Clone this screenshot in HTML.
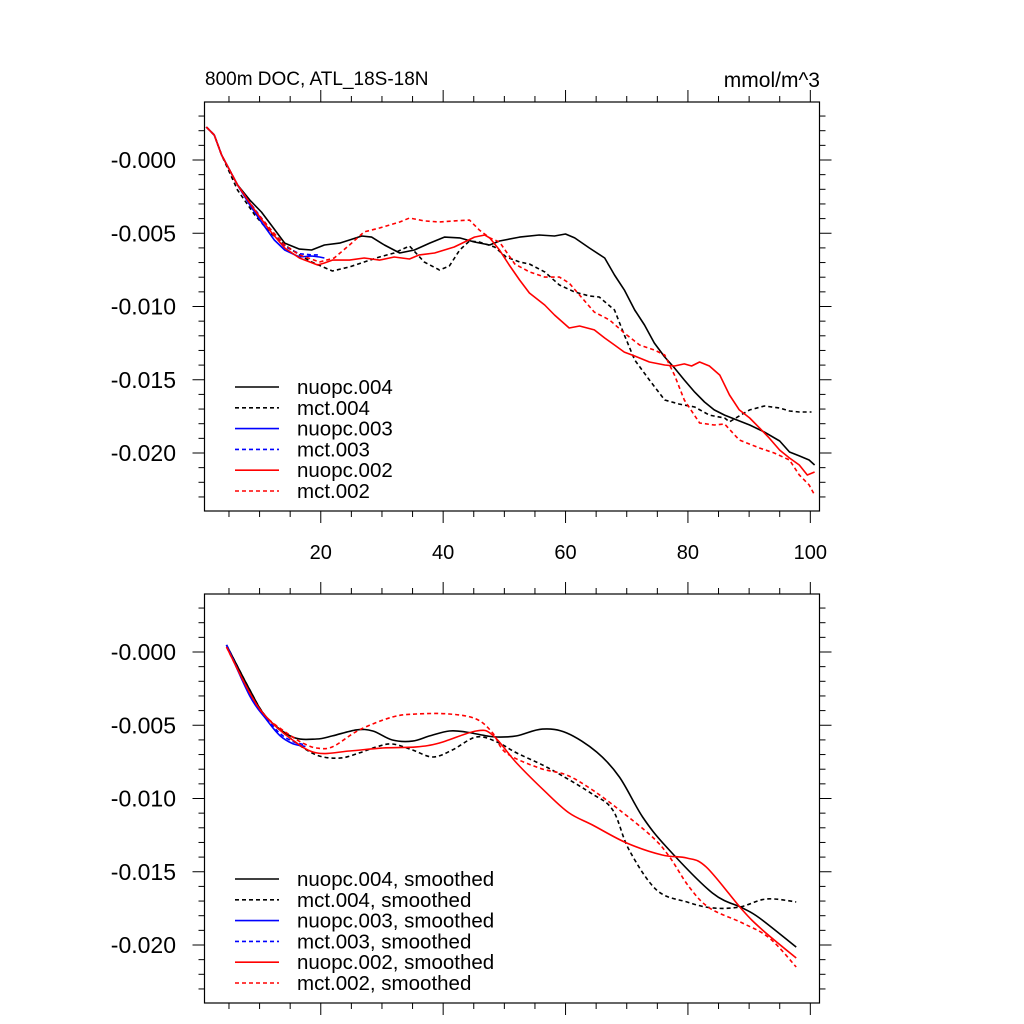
<!DOCTYPE html>
<html><head><meta charset="utf-8"><style>
body{margin:0;background:#fff;}
svg{display:block;font-family:"Liberation Sans",sans-serif;}
</style></head><body>
<svg id="c" width="1024" height="1024" xmlns="http://www.w3.org/2000/svg"></svg>
<script>
// ---- data (y in units of 1e-3 mmol/m^3) ----
const xTicks=[20,40,60,80,100];
const yTicks=[0,-5,-10,-15,-20];
const yTickLabels=["-0.000","-0.005","-0.010","-0.015","-0.020"];
// top panel raw series
const nuopc004X=[1.3,2.6,3.8,6.4,8.4,10.3,11.9,14.1,16.5,18.5,20.6,23.1,24.7,26.7,28.3,30.4,32.9,35.3,37.8,40.2,42.7,45.1,47.6,49.2,52.5,55.7,58.2,60,61.5,63.9,66.4,68,69.6,71.3,72.9,74.5,76.2,77.8,79.4,81.1,82.7,84.3,86,87.6,90.1,92.5,95,96.6,98.2,99.8,100.7];
const nuopc004Y=[2.25,1.7,0.34,-1.7,-2.73,-3.55,-4.44,-5.67,-6.08,-6.14,-5.8,-5.67,-5.46,-5.19,-5.26,-5.8,-6.35,-6.14,-5.67,-5.26,-5.32,-5.6,-5.8,-5.53,-5.26,-5.12,-5.19,-5.05,-5.32,-6.01,-6.69,-7.85,-8.87,-10.24,-11.26,-12.49,-13.45,-14.2,-15.02,-15.84,-16.52,-17.06,-17.41,-17.68,-18.09,-18.57,-19.18,-19.93,-20.2,-20.48,-20.82];
const mct004X=[1.3,2.6,3.8,6.4,9.2,11.6,14.1,16.5,18.5,21.9,24.7,27.1,29.6,32,34.5,36.9,39.4,41,42.7,44.3,45.9,48.4,50.3,52.5,54.1,56.6,59,61.5,63.9,65.5,68,69.6,71.3,73.7,76.2,78.6,81.1,83.5,86,86.8,88.4,90.1,92.5,95,96.6,98.2,100.2];
const mct004Y=[2.25,1.7,0.34,-2.05,-3.75,-4.91,-5.8,-6.48,-6.96,-7.58,-7.3,-6.96,-6.62,-6.35,-5.87,-6.96,-7.51,-7.24,-6.14,-5.53,-5.6,-5.94,-6.62,-6.96,-7.1,-7.64,-8.53,-9.01,-9.28,-9.35,-10.24,-11.94,-13.65,-15.02,-16.38,-16.66,-16.86,-17.41,-17.61,-17.88,-17.47,-17.06,-16.79,-16.93,-17.13,-17.2,-17.2];
const nuopc003X=[1.3,2.6,3.8,6.4,8.4,10.3,12.4,14.1,16.5,18.5,19.8,20.6];
const nuopc003Y=[2.25,1.7,0.34,-1.7,-3.07,-4.23,-5.46,-6.14,-6.62,-6.55,-6.62,-6.69];
const mct003X=[1.3,2.6,3.8,6.4,8.4,10.3,12.4,14.1,16.5,18.5,19.8];
const mct003Y=[2.25,1.7,0.34,-1.7,-2.9,-3.96,-5.05,-5.9,-6.4,-6.48,-6.48];
const nuopc002X=[1.3,2.6,3.8,6.4,9.2,11.6,14.1,16.5,19.5,20.6,21.9,24.7,27.1,29.6,32,34.5,36.1,38.6,40.2,41.8,43.5,45.1,46.8,47.6,49.2,50.8,52.5,54.1,56.6,58.2,60.6,62.3,64.7,66.4,68,69.6,71.3,73.7,76.2,77.8,79.4,80.6,81.9,83.5,85.2,86.8,88.4,90.1,91.7,93.3,95,96.6,98.2,99.5,100.7];
const nuopc002Y=[2.25,1.7,0.34,-1.7,-3.41,-4.78,-6.01,-6.69,-7.17,-7.03,-6.83,-6.83,-6.69,-6.83,-6.62,-6.76,-6.48,-6.35,-6.14,-5.94,-5.6,-5.26,-5.12,-5.32,-6.14,-7.17,-8.19,-9.08,-9.9,-10.58,-11.47,-11.33,-11.6,-12.15,-12.63,-13.11,-13.38,-13.79,-13.99,-14.06,-13.92,-14.06,-13.79,-14.06,-14.68,-16.04,-17.06,-17.61,-18.29,-18.98,-19.8,-20.34,-20.82,-21.5,-21.3];
const mct002X=[1.3,2.6,3.8,6.4,9.2,11.6,14.1,16.5,19.8,22.2,24.7,27.1,29.6,32.9,34.5,36.9,39.4,41.8,44.3,45.9,47.6,49.2,51.7,54.1,56.6,59,60.6,62.3,64.7,67.2,69.6,72.1,74.5,76.2,77.8,79.4,81.9,84.3,86,88.4,91.7,94.1,96.6,98.2,99.8,100.7];
const mct002Y=[2.25,1.7,0.34,-1.7,-3.41,-4.64,-5.8,-6.48,-6.96,-6.69,-5.8,-4.91,-4.64,-4.23,-3.96,-4.16,-4.23,-4.16,-4.1,-4.78,-5.32,-5.6,-7.1,-7.64,-7.99,-7.99,-8.4,-9.22,-10.38,-10.92,-11.81,-12.63,-12.97,-13.31,-14.68,-16.38,-17.95,-18.09,-18.02,-19.11,-19.66,-20,-20.48,-21.5,-22.18,-22.87];
// bottom panel smoothed series
const sNuopc004X=[4.6,8.4,11.1,15.4,19.3,21.9,25.8,28.5,31.7,35,37.8,41,43.7,47.1,48.8,52,56.2,60.2,65.1,68.8,72.6,76.5,84,88.9,91.7,97.7];
const sNuopc004Y=[0.48,-2.59,-4.44,-5.8,-5.94,-5.73,-5.32,-5.39,-6.01,-6.08,-5.73,-5.39,-5.46,-5.73,-5.8,-5.73,-5.26,-5.53,-6.83,-8.53,-11.26,-13.31,-16.45,-17.47,-18.16,-20.14];
const sMct004X=[4.6,8.4,11.1,15.4,19.3,23.1,26.3,29.1,31.7,35,38.3,41.5,45.4,48.8,52,57.2,64.1,67.7,70.4,74.9,79.8,84,88.4,92.8,97.7];
const sMct004Y=[0.48,-2.59,-4.44,-6.01,-7.03,-7.24,-6.89,-6.48,-6.28,-6.69,-7.17,-6.69,-5.8,-6.14,-6.89,-7.92,-9.62,-10.78,-13.52,-16.25,-17.06,-17.47,-17.41,-16.86,-17.06];
const sNuopc003X=[4.6,8.4,11.1,13.3,15.4,17.5];
const sNuopc003Y=[0.48,-3.0,-4.6,-5.7,-6.25,-6.45];
const sMct003X=[4.6,8.4,11.1,13.3,15.4,17.5];
const sMct003Y=[0.48,-2.9,-4.5,-5.55,-6.1,-6.35];
const sNuopc002X=[4.6,8.4,11.1,15.4,19.3,24.7,30.1,35.6,39.4,45.4,48.1,52,56.9,60.6,64.4,70,75.8,79.8,83,88.9,92.2,97.7];
const sNuopc002Y=[0.34,-2.8,-4.44,-6.01,-6.89,-6.76,-6.55,-6.48,-6.21,-5.39,-5.67,-7.58,-9.62,-10.99,-11.81,-13.04,-13.86,-14.06,-14.68,-17.61,-18.98,-20.89];
const sMct002X=[4.6,8.4,11.1,15.4,17.5,19.3,21.9,26.3,31.7,35.6,41,45.4,48.1,50.3,55.7,60.2,64.4,68.8,74.2,77,80.2,83.5,88.9,93.3,97.7];
const sMct002Y=[0.34,-2.8,-4.44,-5.8,-6.3,-6.55,-6.48,-5.32,-4.44,-4.23,-4.23,-4.57,-5.53,-6.89,-7.92,-8.4,-9.42,-10.78,-12.63,-13.99,-16.04,-17.47,-18.5,-19.52,-21.5];

const NS="http://www.w3.org/2000/svg";
const svg=document.getElementById('c');
function el(t,a,p){const e=document.createElementNS(NS,t);for(const k in a)e.setAttribute(k,a[k]);(p||svg).appendChild(e);return e;}
const L=204.5,R=819.5,XMIN=1,XMAX=101.5;
function sx(v){return L+(v-XMIN)/(XMAX-XMIN)*(R-L);}
function pathD(pts,smooth){
  if(!smooth)return pts.map((p,j)=>(j?'L':'M')+p[0].toFixed(1)+','+p[1].toFixed(1)).join('');
  let d='M'+pts[0][0].toFixed(1)+','+pts[0][1].toFixed(1);
  for(let i=0;i<pts.length-1;i++){
    const p0=pts[Math.max(0,i-1)],p1=pts[i],p2=pts[i+1],p3=pts[Math.min(pts.length-1,i+2)];
    const c1=[p1[0]+(p2[0]-p0[0])/6,p1[1]+(p2[1]-p0[1])/6],c2=[p2[0]-(p3[0]-p1[0])/6,p2[1]-(p3[1]-p1[1])/6];
    d+='C'+c1.map(v=>v.toFixed(1)).join(',')+' '+c2.map(v=>v.toFixed(1)).join(',')+' '+p2[0].toFixed(1)+','+p2[1].toFixed(1);
  }
  return d;
}
function makePanel(top,y0px,name,series,legendY,legendSuffix,showXLabels,smooth){
  const g=el('g',{});
  
  
  const bottom=top+409;
  const sy=v=>y0px-v*14.65;
  const ax=el('g',{stroke:'#000','stroke-width':1},g);
  
  
  for(let v=5;v<=100;v+=5){const x=sx(v);const maj=v%20===0;const len=maj?12:6;
    el('line',{x1:x,x2:x,y1:bottom,y2:bottom+len},ax);el('line',{x1:x,x2:x,y1:top,y2:top-len},ax);}
  for(let v=4;v>=-24;v--){const y=sy(v);if(y<top-0.5||y>bottom+0.5)continue;const maj=v%5===0;const len=maj?12:6;
    el('line',{x1:L,x2:L-len,y1:y,y2:y},ax);el('line',{x1:R,x2:R+len,y1:y,y2:y},ax);}
  el('rect',{x:L,y:top,width:R-L,height:bottom-top,fill:'none',stroke:'#000','stroke-width':1.2},ax);
  yTicks.forEach((v,i)=>{const t=el('text',{x:176,y:sy(v)+8,'font-size':23,'text-anchor':'end'},g);t.textContent=yTickLabels[i];
    });
  if(showXLabels)xTicks.forEach(v=>{const t=el('text',{x:sx(v),y:bottom+48,'font-size':20,'text-anchor':'middle'},g);t.textContent=v;
    });
  series.forEach((s,i)=>{
    const pts=s.x.map((xv,j)=>[sx(xv),sy(s.y[j])]);
    const p=el('path',{d:pathD(pts,smooth),fill:'none',stroke:s.c,'stroke-width':1.6,'stroke-dasharray':s.dash?'4,3':'none','stroke-linejoin':'round'},g);
    
    
    const ly=legendY+i*20.8;
    const lg=el('g',{},g);
    
    
    el('line',{x1:235,x2:279,y1:ly,y2:ly,stroke:s.c,'stroke-width':1.6,'stroke-dasharray':s.dash?'4,3':'none'},lg);
    const t=el('text',{x:297,y:ly+7,'font-size':20.5},lg);t.textContent=s.n+legendSuffix;
  });
}
makePanel(102,160,'top-panel',[
 {n:'nuopc.004',x:nuopc004X,y:nuopc004Y,c:'#000',dash:false},
 {n:'mct.004',x:mct004X,y:mct004Y,c:'#000',dash:true},
 {n:'nuopc.003',x:nuopc003X,y:nuopc003Y,c:'#00f',dash:false},
 {n:'mct.003',x:mct003X,y:mct003Y,c:'#00f',dash:true},
 {n:'nuopc.002',x:nuopc002X,y:nuopc002Y,c:'#f00',dash:false},
 {n:'mct.002',x:mct002X,y:mct002Y,c:'#f00',dash:true}],387,'',true,false);
makePanel(594,652,'bottom-panel',[
 {n:'nuopc.004',x:sNuopc004X,y:sNuopc004Y,c:'#000',dash:false},
 {n:'mct.004',x:sMct004X,y:sMct004Y,c:'#000',dash:true},
 {n:'nuopc.003',x:sNuopc003X,y:sNuopc003Y,c:'#00f',dash:false},
 {n:'mct.003',x:sMct003X,y:sMct003Y,c:'#00f',dash:true},
 {n:'nuopc.002',x:sNuopc002X,y:sNuopc002Y,c:'#f00',dash:false},
 {n:'mct.002',x:sMct002X,y:sMct002Y,c:'#f00',dash:true}],879,', smoothed',false,true);
const t1=el('text',{x:205,y:85,'font-size':19});t1.textContent='800m DOC, ATL_18S-18N';


const t2=el('text',{x:820,y:87,'font-size':21,'text-anchor':'end'});t2.textContent='mmol/m^3';


</script>
</body></html>
